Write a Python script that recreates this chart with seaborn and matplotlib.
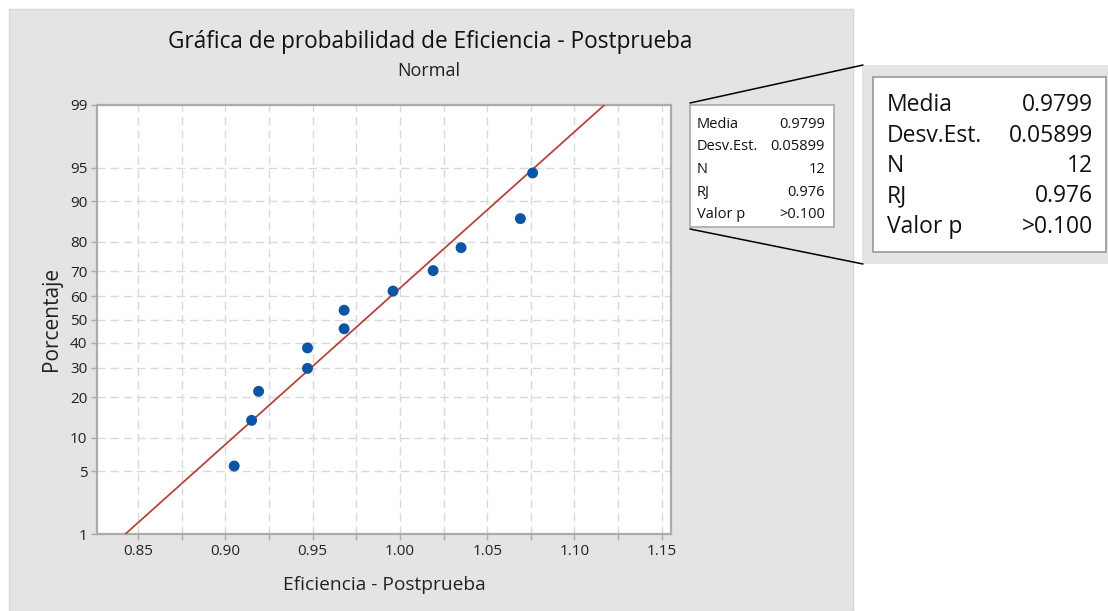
import numpy as np
import pandas as pd
import matplotlib
matplotlib.use("Agg")
import matplotlib.pyplot as plt
import seaborn as sns
from matplotlib.patches import Rectangle
from matplotlib.lines import Line2D
from matplotlib.ticker import FixedLocator, FixedFormatter, FormatStrFormatter
from statistics import NormalDist

# ---------------- data ----------------
eficiencia = [0.905, 0.915, 0.919, 0.947, 0.947, 0.968, 0.968, 0.996,
              1.019, 1.035, 1.069, 1.076]
porcentaje = [5.6, 13.7, 21.8, 29.8, 37.9, 46.0, 54.0, 62.1, 70.2, 78.2,
              86.3, 94.4]
media = 0.9799
desv_est = 0.05899
n_obs = 12
rj = 0.976
valor_p = ">0.100"
y_ticks = [1, 5, 10, 20, 30, 40, 50, 60, 70, 80, 90, 95, 99]
x_ticks = [0.85, 0.90, 0.95, 1.00, 1.05, 1.10, 1.15]
x_minor = [0.825, 0.875, 0.925, 0.975, 1.025, 1.075, 1.125]
fit_pct = [1, 99]

titulo = "Gráfica de probabilidad de Eficiencia - Postprueba"
subtitulo = "Normal"
xlabel = "Eficiencia - Postprueba"
ylabel = "Porcentaje"
stat_names = ["Media", "Desv.Est.", "N", "RJ", "Valor p"]
stat_vals = [f"{media:.4f}", f"{desv_est:.5f}", f"{n_obs}", f"{rj:.3f}", valor_p]

# ---------------- style ----------------
sns.set_theme(style="white")
plt.rcParams['font.family'] = ['Open Sans', 'DejaVu Sans']

W, H = 1108, 611
fig = plt.figure(figsize=(W / 100, H / 100), dpi=100)
fig.patch.set_facecolor("white")

def fx(px):
    return px / W

def fy(py):
    return 1 - py / H

GRAY = "#e4e4e4"
fig.add_artist(Rectangle((fx(9), fy(611)), fx(853) - fx(9), fy(9) - fy(611),
                         transform=fig.transFigure, facecolor=GRAY,
                         edgecolor="#d6d6d6", lw=1, zorder=0))

ax = fig.add_axes([fx(97), fy(534), fx(671) - fx(97), fy(105) - fy(534)])
ax.set_facecolor("white")

nd = NormalDist()
_inv_cdf = np.vectorize(nd.inv_cdf, otypes=[float])
_cdf = np.vectorize(nd.cdf, otypes=[float])

def fwd(p):
    p = np.clip(np.asarray(p, dtype=float) / 100.0, 1e-9, 1 - 1e-9)
    return _inv_cdf(p)

def inv(z):
    z = np.asarray(z, dtype=float)
    return _cdf(z) * 100.0

ax.set_yscale("function", functions=(fwd, inv))

df = pd.DataFrame({"x": eficiencia, "y": porcentaje})
zf = [nd.inv_cdf(p / 100.0) for p in fit_pct]
fit = pd.DataFrame({"x": [media + desv_est * z for z in zf], "y": fit_pct})

sns.lineplot(data=fit, x="x", y="y", ax=ax, color="#b8433e", lw=1.3,
             zorder=3, sort=False)
sns.scatterplot(data=df, x="x", y="y", ax=ax, color="#0a55a4", s=62,
                edgecolor="none", zorder=4)

ax.set_xlim(0.8264, 1.1553)
ax.set_ylim(1, 99)

ax.yaxis.set_major_locator(FixedLocator(y_ticks))
ax.yaxis.set_major_formatter(FixedFormatter([str(t) for t in y_ticks]))
ax.yaxis.set_minor_locator(FixedLocator([]))
ax.xaxis.set_major_locator(FixedLocator(x_ticks))
ax.xaxis.set_major_formatter(FormatStrFormatter("%.2f"))
ax.xaxis.set_minor_locator(FixedLocator(x_minor))

grid_kw = dict(color="#d9d9d9", linestyle=(0, (6, 3.5)), linewidth=1.0)
ax.grid(True, which="major", axis="both", **grid_kw)
ax.grid(True, which="minor", axis="x", **grid_kw)
ax.set_axisbelow(True)

for s in ax.spines.values():
    s.set_color("#ababab")
    s.set_linewidth(1.6)
    s.set_visible(True)

ax.tick_params(axis="both", which="both", direction="out", length=4,
               width=1, color="#ababab", labelsize=11, labelcolor="#222222",
               pad=3, left=True, bottom=True)
ax.tick_params(axis="y", which="minor", left=False)

ax.set_xlabel("")
ax.set_ylabel("")

fig.text(fx(430), fy(42), titulo, ha="center", va="center", fontsize=16.3,
         color="#111111")
fig.text(fx(429), fy(71), subtitulo, ha="center", va="center", fontsize=13,
         color="#222222")
fig.text(fx(384), fy(585), xlabel, ha="center", va="center", fontsize=13.8,
         color="#222222")
fig.text(fx(51), fy(319), ylabel, ha="center", va="center", fontsize=15,
         rotation=90, color="#222222")

fig.add_artist(Rectangle((fx(690), fy(227)), fx(834) - fx(690), fy(105) - fy(227),
                         transform=fig.transFigure, facecolor="white",
                         edgecolor="#a9a9a9", lw=1.2, zorder=2))
rows_small = [124.3, 147, 170, 192.5, 214]
for nm, val, ry in zip(stat_names, stat_vals, rows_small):
    fig.text(fx(697), fy(ry), nm, ha="left", va="center", fontsize=10.5,
             color="#111111", zorder=3)
    fig.text(fx(825), fy(ry), val, ha="right", va="center", fontsize=10.5,
             color="#111111", zorder=3)

fig.add_artist(Rectangle((fx(862), fy(264)), fx(1108) - fx(862), fy(65) - fy(264),
                         transform=fig.transFigure, facecolor=GRAY,
                         edgecolor="none", zorder=1))
fig.add_artist(Rectangle((fx(873), fy(252)), fx(1106) - fx(873), fy(77) - fy(252),
                         transform=fig.transFigure, facecolor="white",
                         edgecolor="#a0a0a0", lw=1.3, zorder=2))
rows_big = [105, 135.5, 166, 196.5, 227]
for nm, val, ry in zip(stat_names, stat_vals, rows_big):
    fig.text(fx(887), fy(ry), nm, ha="left", va="center", fontsize=16.5,
             color="#111111", zorder=3)
    fig.text(fx(1093), fy(ry), val, ha="right", va="center", fontsize=16.5,
             color="#111111", zorder=3)

fig.add_artist(Line2D([fx(690), fx(863)], [fy(103), fy(65)],
                      transform=fig.transFigure, color="black", lw=1.1, zorder=3))
fig.add_artist(Line2D([fx(690), fx(863)], [fy(229), fy(264)],
                      transform=fig.transFigure, color="black", lw=1.1, zorder=3))

fig.savefig("out.png", dpi=100)
